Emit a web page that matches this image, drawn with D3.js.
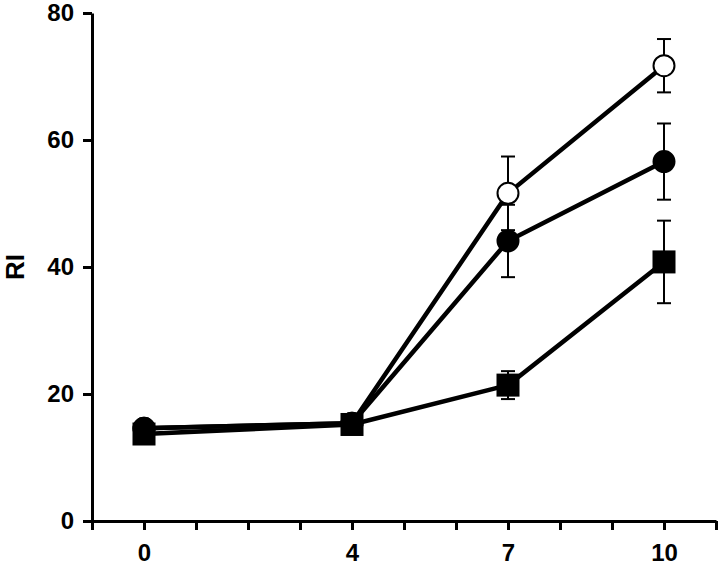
<!DOCTYPE html>
<html>
<head>
<meta charset="utf-8">
<script src="https://cdn.jsdelivr.net/npm/d3@7"></script>
<style>
  body { margin: 0; background: #fff; }
  text { font-family: "Liberation Sans", Arial, sans-serif; font-weight: bold; }
</style>
</head>
<body>
<div id="chart"></div>
<script>
// days on the x axis
var days = [0, 4, 7, 10];

// RI values, with the error bar half-widths
var openCircle = [14.6, 15.4, 51.6, 71.7],
    openCircleErr = [0.8, 0.8, 5.8, 4.2];
var filledCircle = [14.6, 15.4, 44.1, 56.6],
    filledCircleErr = [0.8, 0.8, 5.7, 6.0];
var filledSquare = [13.7, 15.2, 21.4, 40.8],
    filledSquareErr = [0.6, 0.6, 2.2, 6.5];

var xTicks = d3.range(-1, 12),
    xLabels = [0, 4, 7, 10],
    yTicks = [0, 20, 40, 60, 80];

var width = 720, height = 567;

var x = d3.scaleLinear().domain([-1, 11]).range([92, 716]);
var y = d3.scaleLinear().domain([0, 80]).range([521, 13]);

var svg = d3.select("#chart").append("svg")
  .attr("width", width)
  .attr("height", height);

//axes
var xAxis = svg.append("g")
  .attr("transform", "translate(0," + y(0) + ")")
  .call(d3.axisBottom(x)
    .tickValues(xTicks)
    .tickSize(9)
    .tickSizeOuter(0)
    .tickPadding(31)
    .tickFormat(function(d) { return xLabels.indexOf(d) >= 0 ? d : ""; }));

var yAxis = svg.append("g")
  .attr("transform", "translate(" + x(-1) + ",0)")
  .call(d3.axisLeft(y)
    .tickValues(yTicks)
    .tickSize(9)
    .tickSizeOuter(0)
    .tickPadding(9));

[xAxis, yAxis].forEach(function(a) {
  a.select(".domain").attr("stroke", "#000").attr("stroke-width", 3);
  a.selectAll(".tick line").attr("stroke", "#000").attr("stroke-width", 3);
  a.selectAll(".tick text")
    .attr("fill", "#000")
    .style("font-size", "24px")
    .style("font-family", "'Liberation Sans', Arial, sans-serif")
    .style("font-weight", "bold");
});
xAxis.selectAll(".tick text").attr("dy", 0);

svg.append("text")
  .attr("transform", "translate(24," + y(40) + ") rotate(-90)")
  .attr("text-anchor", "middle")
  .style("font-size", "26px")
  .text("RI");

//series
var series = [
  {values: openCircle, err: openCircleErr, shape: "circle", fill: "#fff"},
  {values: filledCircle, err: filledCircleErr, shape: "circle", fill: "#000"},
  {values: filledSquare, err: filledSquareErr, shape: "square", fill: "#000"}
];

var line = d3.line()
  .x(function(d) { return x(d.day); })
  .y(function(d) { return y(d.v); });

series.forEach(function(s) {
  var pts = days.map(function(day, i) { return {day: day, v: s.values[i], e: s.err[i]}; });
  var g = svg.append("g");

  g.append("path")
    .datum(pts)
    .attr("d", line)
    .attr("fill", "none")
    .attr("stroke", "#000")
    .attr("stroke-width", 4.5)
    .attr("stroke-linejoin", "round");

  var eb = g.selectAll("g.err").data(pts).enter().append("g").attr("class", "err")
    .attr("stroke", "#000").attr("stroke-width", 2);
  eb.append("line")
    .attr("x1", function(d) { return x(d.day); })
    .attr("x2", function(d) { return x(d.day); })
    .attr("y1", function(d) { return y(d.v - d.e); })
    .attr("y2", function(d) { return y(d.v + d.e); });
  eb.append("line")
    .attr("x1", function(d) { return x(d.day) - 7; })
    .attr("x2", function(d) { return x(d.day) + 7; })
    .attr("y1", function(d) { return y(d.v + d.e); })
    .attr("y2", function(d) { return y(d.v + d.e); });
  eb.append("line")
    .attr("x1", function(d) { return x(d.day) - 7; })
    .attr("x2", function(d) { return x(d.day) + 7; })
    .attr("y1", function(d) { return y(d.v - d.e); })
    .attr("y2", function(d) { return y(d.v - d.e); });

  if (s.shape == "circle") {
    g.selectAll("circle").data(pts).enter().append("circle")
      .attr("cx", function(d) { return x(d.day); })
      .attr("cy", function(d) { return y(d.v); })
      .attr("r", 10.5)
      .attr("fill", s.fill)
      .attr("stroke", "#000")
      .attr("stroke-width", 2);
  } else {
    g.selectAll("rect").data(pts).enter().append("rect")
      .attr("x", function(d) { return x(d.day) - 11.5; })
      .attr("y", function(d) { return y(d.v) - 11.5; })
      .attr("width", 23)
      .attr("height", 23)
      .attr("fill", s.fill);
  }
});
</script>
</body>
</html>
